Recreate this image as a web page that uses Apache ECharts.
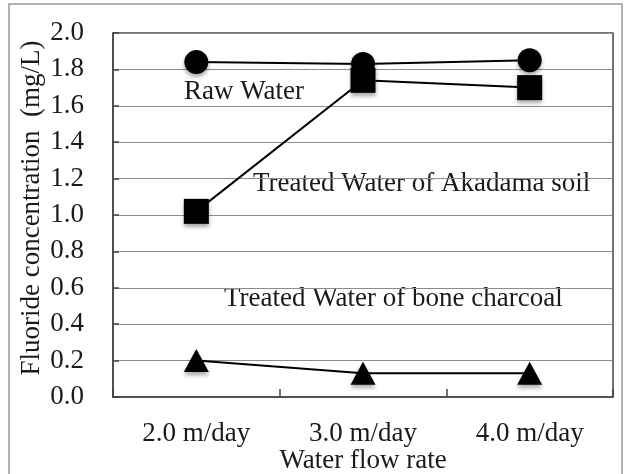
<!DOCTYPE html>
<html>
<head>
<meta charset="utf-8">
<script src="https://cdn.jsdelivr.net/npm/echarts@6/dist/echarts.min.js"></script>
<style>
  html, body { margin: 0; padding: 0; background: #fff; }
  #chart { width: 631px; height: 474px; }
</style>
</head>
<body>
<div id="chart"></div>
<script>
// Flow rates tested and fluoride concentration measured (mg/L)
const flowRates = ['2.0 m/day', '3.0 m/day', '4.0 m/day'];
const rawWater = [1.84, 1.83, 1.85];
const akadamaSoil = [1.02, 1.74, 1.70];
const boneCharcoal = [0.20, 0.13, 0.13];
const yTicks = { min: 0, max: 2.0, interval: 0.2 };

const serif = '"Liberation Serif", "Times New Roman", serif';
const ink = '#1a1a1a';
const fs = 27;
const markerShadow = {
  shadowColor: 'rgba(0,0,0,0.35)',
  shadowBlur: 4,
  shadowOffsetY: 3
};

function lineSeries(name, data, symbol, size) {
  return {
    name: name,
    type: 'line',
    data: data,
    symbol: symbol,
    symbolSize: size,
    showAllSymbol: true,
    lineStyle: { color: '#000', width: 2 },
    itemStyle: Object.assign({ color: '#000' }, markerShadow),
    z: 3
  };
}

const chart = echarts.init(document.getElementById('chart'), null, { renderer: 'canvas' });

chart.setOption({
  animation: false,
  backgroundColor: '#fff',
  grid: {
    left: 113, right: 18, top: 33, bottom: 77,
    outerBoundsMode: 'none',
    containLabel: false,
    show: true,
    borderColor: '#444',
    borderWidth: 1.5,
    backgroundColor: 'transparent'
  },
  xAxis: {
    type: 'category',
    data: flowRates,
    boundaryGap: true,
    name: 'Water flow rate',
    nameLocation: 'middle',
    nameGap: 50,
    nameMoveOverlap: false,
    nameTextStyle: { fontFamily: serif, fontSize: fs, color: ink },
    axisLine: { lineStyle: { color: '#444', width: 1.5 } },
    axisTick: { show: true, inside: true, length: 8, lineStyle: { color: '#444', width: 1.5 } },
    axisLabel: { fontFamily: serif, fontSize: fs, color: ink, margin: 23 },
    splitLine: { show: false }
  },
  yAxis: {
    type: 'value',
    min: yTicks.min,
    max: yTicks.max,
    interval: yTicks.interval,
    name: 'Fluoride concentration  (mg/L)',
    nameLocation: 'middle',
    nameGap: 68,
    nameMoveOverlap: false,
    nameTextStyle: { fontFamily: serif, fontSize: fs, color: ink, padding: [0, 0, 0, 14] },
    axisLine: { show: true, lineStyle: { color: '#444', width: 1.5 } },
    axisTick: { show: true, inside: true, length: 6, lineStyle: { color: '#444', width: 1.5 } },
    axisLabel: {
      fontFamily: serif, fontSize: fs, color: ink, margin: 29,
      formatter: v => v.toFixed(1)
    },
    splitLine: { show: true, lineStyle: { color: '#8c8c8c', width: 1 } }
  },
  series: [
    lineSeries('Raw Water', rawWater, 'circle', 24),
    lineSeries('Treated Water of Akadama soil', akadamaSoil, 'rect', 25),
    lineSeries('Treated Water of bone charcoal', boneCharcoal, 'triangle', [25, 23])
  ],
  graphic: [
    {
      type: 'rect',
      shape: { x: 9, y: 4, width: 613, height: 490 },
      style: { fill: 'none', stroke: '#9a9a9a', lineWidth: 1.5 },
      silent: true,
      z: -1
    },
    {
      type: 'text', left: 184, top: 78,
      style: { text: 'Raw Water', font: fs + 'px ' + serif, fill: ink }
    },
    {
      type: 'text', left: 253, top: 170,
      style: { text: 'Treated Water of Akadama soil', font: fs + 'px ' + serif, fill: ink }
    },
    {
      type: 'text', left: 224, top: 285,
      style: { text: 'Treated Water of bone charcoal', font: fs + 'px ' + serif, fill: ink }
    }
  ]
});
</script>
</body>
</html>
